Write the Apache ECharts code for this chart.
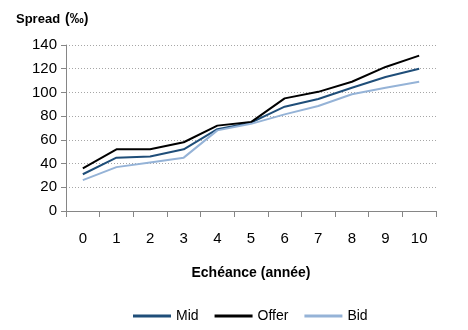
<!DOCTYPE html>
<html>
<head>
<meta charset="utf-8">
<script src="https://cdn.jsdelivr.net/npm/echarts@6/dist/echarts.min.js"></script>
<style>html,body{margin:0;padding:0;background:#fff;}#c{width:468px;height:330px;}</style>
</head>
<body>
<div id="c"></div>
<script>
var categories = ['0','1','2','3','4','5','6','7','8','9','10'];
var midValues = [31, 45, 46, 52, 69, 74.5, 88, 94.5, 104, 113, 120];
var offerValues = [36, 52, 52, 58, 72, 75, 95, 100.5, 109, 121.5, 131];
var bidValues = [26, 37, 41, 45, 68, 73.5, 81.5, 88.5, 98.5, 104, 109];
var yTicks = { min: 0, max: 140, interval: 20 };

var font = 'Arial, "Liberation Sans", sans-serif';
var chart = echarts.init(document.getElementById('c'), null, {renderer: 'canvas'});
chart.setOption({
  animation: false,
  backgroundColor: '#fff',
  title: {
    text: '{b|Spread} {n|(‰)}',
    left: 11, top: 5,
    textStyle: {
      rich: {
        b: {fontFamily: font, fontSize: 13, fontWeight: 'bold', color: '#000'},
        n: {fontFamily: font, fontSize: 14, color: '#000'}
      }
    }
  },
  grid: {left: 66, right: 32, top: 45, bottom: 119, containLabel: false},
  legend: {
    bottom: 2, left: 128,
    icon: 'rect', itemWidth: 38, itemHeight: 3, itemGap: 16,
    textStyle: {fontFamily: font, fontSize: 14, color: '#000'},
    data: ['Mid', 'Offer', 'Bid']
  },
  xAxis: {
    type: 'category', data: categories, boundaryGap: true,
    name: 'Echéance (année)', nameLocation: 'middle', nameGap: 55,
    nameTextStyle: {fontFamily: font, fontSize: 14, fontWeight: 'bold', color: '#000'},
    axisLine: {lineStyle: {color: '#868686', width: 1}},
    axisTick: {show: true, length: 6, alignWithLabel: false, lineStyle: {color: '#868686'}},
    axisLabel: {fontFamily: font, fontSize: 15, color: '#000', margin: 20},
    splitLine: {show: false}
  },
  yAxis: {
    type: 'value', min: yTicks.min, max: yTicks.max, interval: yTicks.interval,
    axisLine: {show: true, lineStyle: {color: '#868686', width: 1}},
    axisTick: {show: true, length: 5, lineStyle: {color: '#868686'}},
    axisLabel: {fontFamily: font, fontSize: 15, color: '#000', margin: 9},
    splitLine: {show: true, lineStyle: {color: '#a6a6a6', type: [1, 2], width: 1}}
  },
  series: [
    {name: 'Mid', type: 'line', data: midValues, symbol: 'none', color: '#1f4e79', lineStyle: {width: 2, color: '#1f4e79'}},
    {name: 'Offer', type: 'line', data: offerValues, symbol: 'none', color: '#000000', lineStyle: {width: 2, color: '#000000'}},
    {name: 'Bid', type: 'line', data: bidValues, symbol: 'none', color: '#95b3d7', lineStyle: {width: 2, color: '#95b3d7'}}
  ]
});
</script>
</body>
</html>
